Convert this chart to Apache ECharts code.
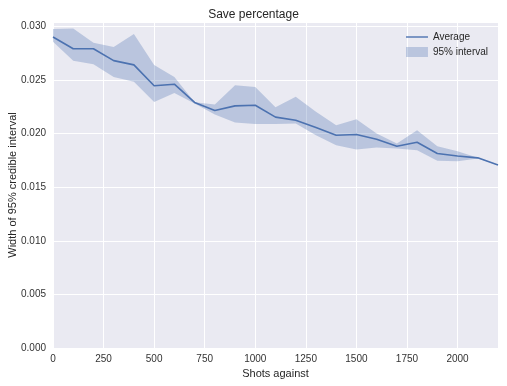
<!DOCTYPE html>
<html>
<head>
<meta charset="utf-8">
<script src="https://cdn.jsdelivr.net/npm/echarts@6/dist/echarts.min.js"></script>
<style>html,body{margin:0;padding:0;background:#fff}#c{width:507px;height:386px}</style>
</head>
<body>
<div id="c"></div>
<script>
var shots = [0,100,200,300,400,500,600,700,800,900,1000,1100,1200,1300,1400,1500,1600,1700,1800,1900,2000,2100,2200];
var average = [0.0290,0.0279,0.0279,0.0268,0.0264,0.02445,0.0246,0.0229,0.02215,0.02258,0.02264,0.02153,0.02124,0.02056,0.01984,0.01991,0.01947,0.01882,0.01919,0.01814,0.01791,0.01773,0.01707];
var upper = [0.02974,0.0298,0.02846,0.02808,0.02927,0.02638,0.02528,0.02292,0.02271,0.02451,0.02435,0.02245,0.02342,0.02202,0.02078,0.02134,0.0200,0.01907,0.02031,0.01882,0.01835,0.01775,0.01707];
var lower = [0.02855,0.02678,0.02647,0.02528,0.02482,0.02295,0.02379,0.0228,0.02178,0.02103,0.0209,0.0209,0.02094,0.01984,0.01891,0.01851,0.0187,0.0186,0.01845,0.01745,0.01742,0.01767,0.01707];
var xTicks = [0,250,500,750,1000,1250,1500,1750,2000];
var yTicks = [0.000,0.005,0.010,0.015,0.020,0.025,0.030];

var bandData = shots.map(function(s,i){return [s, lower[i], upper[i]];});
var avgData = shots.map(function(s,i){return [s, average[i]];});

function isTick(v, ticks){
  for (var i=0;i<ticks.length;i++){ if (Math.abs(v-ticks[i]) < 1e-9) return ticks[i]; }
  return null;
}

var bandColor = 'rgba(76,114,176,0.3)';

var chart = echarts.init(document.getElementById('c'));
chart.setOption({
  backgroundColor: '#ffffff',
  animation: false,
  textStyle: {fontFamily: 'Liberation Sans, Arial, sans-serif'},
  title: {
    text: 'Save percentage', left: 'center', top: 4,
    textStyle: {fontSize: 12, fontWeight: 'normal', color: '#262626', fontFamily: 'Liberation Sans, Arial, sans-serif'}
  },
  legend: {
    right: 14, top: 27, orient: 'vertical', itemGap: 5, itemWidth: 22, itemHeight: 10,
    textStyle: {fontSize: 10, color: '#262626'},
    data: [
      {name: 'Average', icon: 'path://M0,4.3 L22,4.3 L22,5.7 L0,5.7 Z'},
      {name: '95% interval', icon: 'rect', itemStyle: {color: bandColor}}
    ]
  },
  grid: {left: 53, right: 9, top: 22, bottom: 38, show: true, backgroundColor: '#EAEAF2', borderWidth: 0,
         containLabel: false, outerBoundsMode: 'none'},
  xAxis: {
    type: 'value', min: 0, max: 2200, interval: 250,
    name: 'Shots against', nameLocation: 'middle', nameGap: 20, nameMoveOverlap: false,
    nameTextStyle: {fontSize: 11, color: '#262626'},
    axisLine: {show: false}, axisTick: {show: false},
    axisLabel: {fontSize: 10, color: '#333', margin: 6,
      formatter: function(v){ var t = isTick(v, xTicks); return t===null ? '' : String(t); }},
    splitLine: {lineStyle: {color: '#ffffff', width: 1}}
  },
  yAxis: {
    type: 'value', min: 0, max: 0.0304, interval: 0.005,
    name: 'Width of 95% credible interval', nameLocation: 'middle', nameGap: 35, nameMoveOverlap: false,
    nameTextStyle: {fontSize: 11, color: '#262626'},
    axisLine: {show: false}, axisTick: {show: false},
    axisLabel: {fontSize: 10, color: '#333', margin: 7,
      formatter: function(v){ var t = isTick(v, yTicks); return t===null ? '' : t.toFixed(3); }},
    splitLine: {lineStyle: {color: '#ffffff', width: 1}}
  },
  series: [
    {name: '95% interval', type: 'custom', data: bandData, z: 1, silent: true,
     itemStyle: {color: bandColor},
     encode: {x: 0, y: [1, 2]},
     renderItem: function(params, api){
       if (params.dataIndex !== 0) return null;
       var pts = [];
       for (var i=0;i<shots.length;i++) pts.push(api.coord([shots[i], upper[i]]));
       for (var j=shots.length-1;j>=0;j--) pts.push(api.coord([shots[j], lower[j]]));
       return {type: 'polygon', shape: {points: pts}, style: {fill: bandColor, stroke: null}};
     }},
    {name: 'Average', type: 'line', data: avgData, symbol: 'none', showSymbol: false,
     itemStyle: {color: '#4C72B0'},
     lineStyle: {color: '#4C72B0', width: 1.6}, z: 3}
  ]
});
</script>
</body>
</html>
